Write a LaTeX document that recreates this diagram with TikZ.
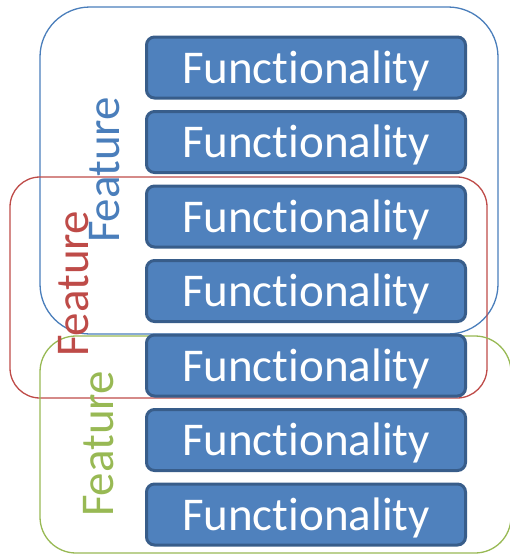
\documentclass[tikz,border=0pt]{standalone}
\usepackage{fontspec}
\setmainfont{Carlito}[Ligatures=CommonOff]
\usetikzlibrary{positioning}
\definecolor{boxfill}{HTML}{4F81BD}
\definecolor{boxline}{HTML}{385D8A}
\definecolor{featblue}{HTML}{4A7EBB}
\definecolor{featred}{HTML}{BE4B48}
\definecolor{featgreen}{HTML}{98B954}
\begin{document}
\begin{tikzpicture}[x = 1pt, y = -1pt,
	func/.style = {draw = boxline, fill = boxfill, line width = 3pt, rounded corners = 8pt,
		minimum width = 319pt, minimum height = 61pt, inner sep = 0pt,
		text = white, text height = 31pt, text depth = 0pt, font = \fontsize{47}{47}\selectfont},
	featbox/.style = {line width = 1.3pt, rounded corners = #1},
	featlabel/.style = {rotate = 90, inner sep = 0pt, font = \fontsize{47}{47}\selectfont},
	node distance = 10.5pt]
	\useasboundingbox (0,0) rectangle (510,555);
	\draw[featbox = 50pt, featblue] (40,7) rectangle (498,334); %first feature
	\draw[featbox = 30pt, featred] (10,177) rectangle (487,398); %second feature
	\draw[featbox = 36pt, featgreen] (40,336) rectangle (511,553); %third feature
	\node[func] (f1) at (306,67.5) {Functionality};
	\node[func, below = of f1] (f2) {Functionality};
	\node[func, below = of f2] (f3) {Functionality};
	\node[func, below = of f3] (f4) {Functionality};
	\node[func, below = of f4] (f5) {Functionality};
	\node[func, below = of f5] (f6) {Functionality};
	\node[func, below = of f6] (f7) {Functionality};
	\node[featlabel, text = featblue] (lblue) at (105,170) {Feature};
	\node[featlabel, text = featred] (lred) at (74,284) {Feature};
	\node[featlabel, text = featgreen] (lgreen) at (99,444) {Feature};
\end{tikzpicture}
\end{document}
